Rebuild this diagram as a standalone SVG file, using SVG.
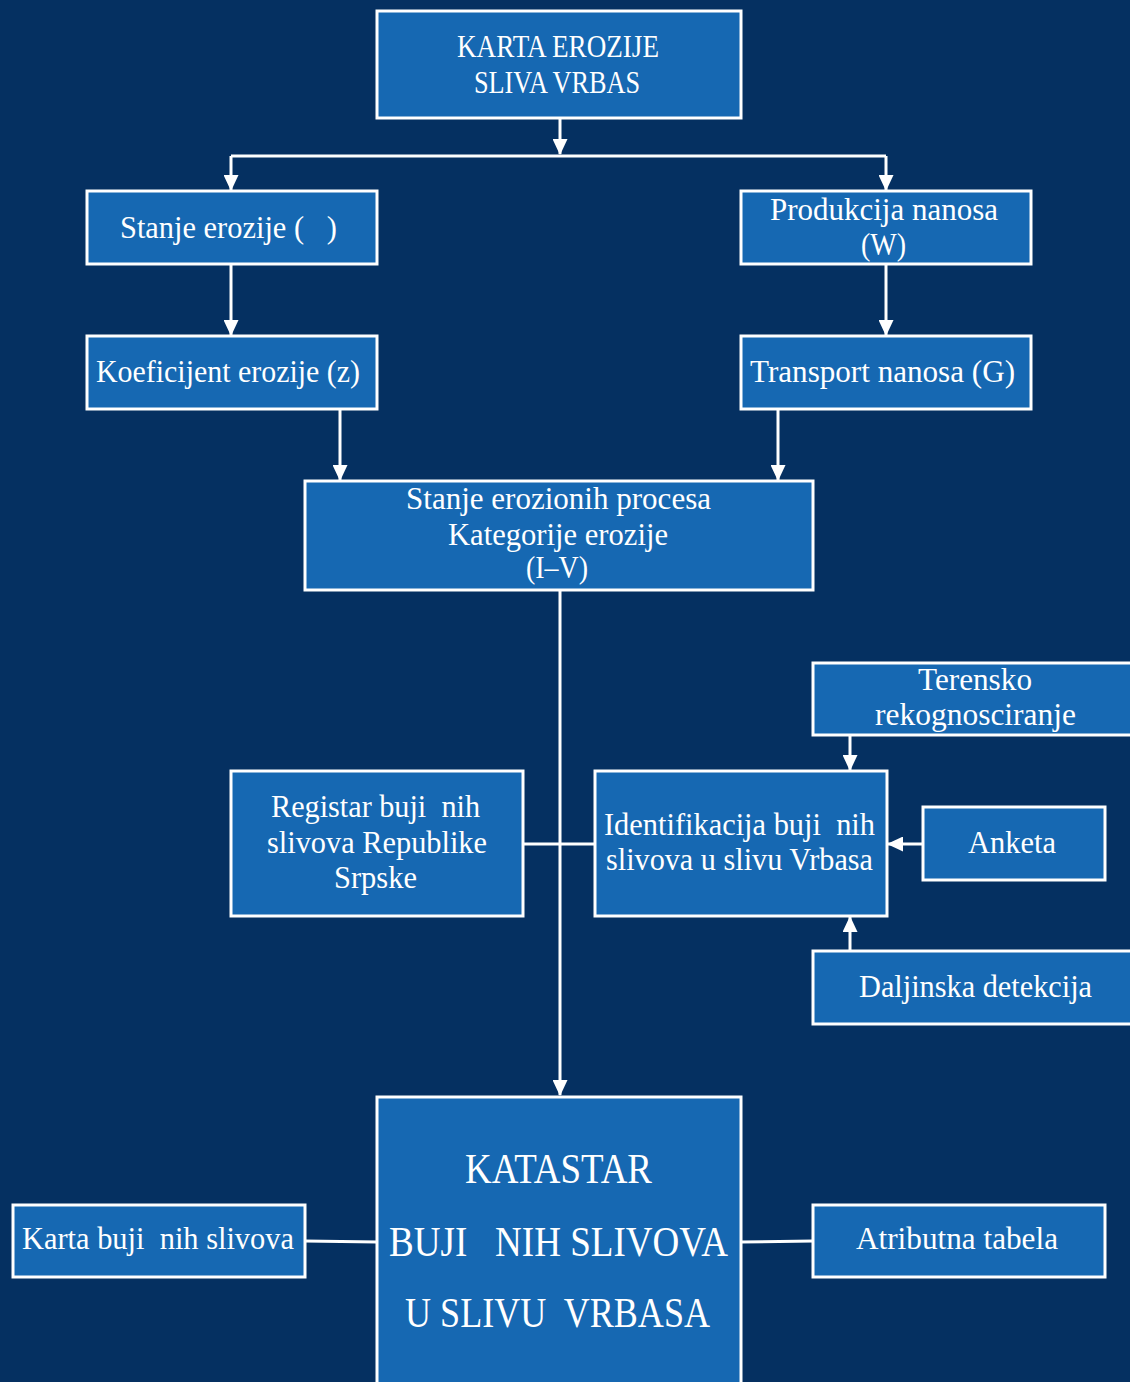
<svg xmlns="http://www.w3.org/2000/svg" width="1130" height="1382" viewBox="0 0 1130 1382">
<defs>
<marker id="ah" markerUnits="userSpaceOnUse" markerWidth="16" markerHeight="15" refX="15" refY="7.5" orient="auto">
<path d="M0,0 L16,7.5 L0,15 z" fill="#ffffff"/>
</marker>
<style>
.box{fill:#1668B2;stroke:#ffffff;stroke-width:3}
.t{font-family:"Liberation Serif","DejaVu Serif",serif;font-size:31px;fill:#ffffff;white-space:pre}
.big{font-size:42px}
.c{fill:none;stroke:#ffffff;stroke-width:3}
.ca{fill:none;stroke:#ffffff;stroke-width:3;marker-end:url(#ah)}
</style>
</defs>
<rect x="0" y="0" width="1130" height="1382" fill="#053061"/>
<g id="connectors">
<path class="ca" d="M560,118 L560,154"/>
<path class="c" d="M231,156 L886,156"/>
<path class="ca" d="M231,156 L231,190"/>
<path class="ca" d="M886,156 L886,190"/>
<path class="ca" d="M231,264 L231,335"/>
<path class="ca" d="M886,264 L886,335"/>
<path class="ca" d="M340,409 L340,480"/>
<path class="ca" d="M778,409 L778,480"/>
<path class="ca" d="M560,590 L560,1095"/>
<path class="c" d="M523,844 L595,844"/>
<path class="ca" d="M850,735 L850,770"/>
<path class="ca" d="M923,844 L888,844"/>
<path class="ca" d="M850,951 L850,917"/>
<path class="c" d="M305,1241 L377,1242"/>
<path class="c" d="M741,1242 L813,1241"/>
</g>
<g id="n_karta">
<rect class="box" x="377" y="11" width="364" height="107"/>
<text class="t" x="457" y="57" font-size="32" textLength="202" lengthAdjust="spacingAndGlyphs">KARTA EROZIJE</text>
<text class="t" x="474" y="93" font-size="32" textLength="166" lengthAdjust="spacingAndGlyphs">SLIVA VRBAS</text>
</g>
<g id="n_stanje">
<rect class="box" x="87" y="191" width="290" height="73"/>
<text class="t" xml:space="preserve" x="120" y="238" textLength="217" lengthAdjust="spacingAndGlyphs">Stanje erozije (   )</text>
</g>
<g id="n_produkcija">
<rect class="box" x="741" y="191" width="290" height="73"/>
<text class="t" x="770" y="220" textLength="228" lengthAdjust="spacingAndGlyphs">Produkcija nanosa</text>
<text class="t" x="861" y="255" textLength="45" lengthAdjust="spacingAndGlyphs">(W)</text>
</g>
<g id="n_koef">
<rect class="box" x="87" y="336" width="290" height="73"/>
<text class="t" x="96" y="382" textLength="264" lengthAdjust="spacingAndGlyphs">Koeficijent erozije (z)</text>
</g>
<g id="n_transport">
<rect class="box" x="741" y="336" width="290" height="73"/>
<text class="t" x="750" y="382" textLength="265" lengthAdjust="spacingAndGlyphs">Transport nanosa (G)</text>
</g>
<g id="n_procesi">
<rect class="box" x="305" y="481" width="508" height="109"/>
<text class="t" x="406" y="509" textLength="305" lengthAdjust="spacingAndGlyphs">Stanje erozionih procesa</text>
<text class="t" x="448" y="545" textLength="220" lengthAdjust="spacingAndGlyphs">Kategorije erozije</text>
<text class="t" x="526" y="578" textLength="62" lengthAdjust="spacingAndGlyphs">(I–V)</text>
</g>
<g id="n_terensko">
<rect class="box" x="813" y="663" width="330" height="72"/>
<text class="t" x="918" y="690" textLength="114" lengthAdjust="spacingAndGlyphs">Terensko</text>
<text class="t" x="875" y="725" textLength="201" lengthAdjust="spacingAndGlyphs">rekognosciranje</text>
</g>
<g id="n_registar">
<rect class="box" x="231" y="771" width="292" height="145"/>
<text class="t" xml:space="preserve" x="271" y="817" textLength="209" lengthAdjust="spacingAndGlyphs">Registar buji  nih</text>
<text class="t" x="267" y="853" textLength="220" lengthAdjust="spacingAndGlyphs">slivova Republike</text>
<text class="t" x="334" y="888" textLength="83" lengthAdjust="spacingAndGlyphs">Srpske</text>
</g>
<g id="n_identifikacija">
<rect class="box" x="595" y="771" width="292" height="145"/>
<text class="t" xml:space="preserve" x="604" y="835" textLength="271" lengthAdjust="spacingAndGlyphs">Identifikacija buji  nih</text>
<text class="t" x="606" y="870" textLength="267" lengthAdjust="spacingAndGlyphs">slivova u slivu Vrbasa</text>
</g>
<g id="n_anketa">
<rect class="box" x="923" y="807" width="182" height="73"/>
<text class="t" x="968" y="853" textLength="88" lengthAdjust="spacingAndGlyphs">Anketa</text>
</g>
<g id="n_daljinska">
<rect class="box" x="813" y="951" width="330" height="73"/>
<text class="t" x="859" y="997" textLength="233" lengthAdjust="spacingAndGlyphs">Daljinska detekcija</text>
</g>
<g id="n_katastar">
<rect class="box" x="377" y="1097" width="364" height="300"/>
<text class="t big" x="465" y="1183" textLength="187" lengthAdjust="spacingAndGlyphs">KATASTAR</text>
<text class="t big" xml:space="preserve" x="389" y="1256" textLength="339" lengthAdjust="spacingAndGlyphs">BUJI   NIH SLIVOVA</text>
<text class="t big" xml:space="preserve" x="405" y="1327" textLength="305" lengthAdjust="spacingAndGlyphs">U SLIVU  VRBASA</text>
</g>
<g id="n_kartabuj">
<rect class="box" x="13" y="1205" width="292" height="72"/>
<text class="t" xml:space="preserve" x="22" y="1249" textLength="272" lengthAdjust="spacingAndGlyphs">Karta buji  nih slivova</text>
</g>
<g id="n_atributna">
<rect class="box" x="813" y="1205" width="292" height="72"/>
<text class="t" x="856" y="1249" textLength="202" lengthAdjust="spacingAndGlyphs">Atributna tabela</text>
</g>
</svg>
